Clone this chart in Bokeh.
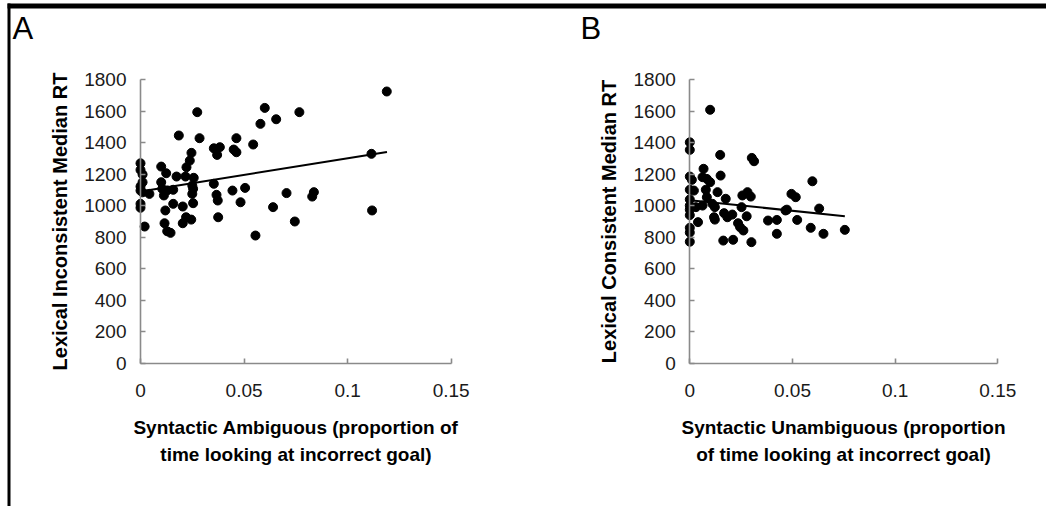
from bokeh.plotting import figure
from bokeh.models import Range1d, FixedTicker, Label, BoxAnnotation, LinearAxis
from bokeh.embed import file_html
from bokeh.resources import INLINE

# ---------------- data ----------------
# Panel A: Syntactic Ambiguous vs Lexical Inconsistent Median RT
a_x = [0.000, 0.000, 0.001, 0.001, 0.000, 0.000, 0.001, 0.000, 0.000, 0.002,
       0.0043, 0.010, 0.0124, 0.010, 0.0105, 0.0113, 0.0129, 0.0158, 0.012, 0.0116,
       0.0129, 0.0145, 0.0158, 0.0185, 0.0174, 0.0204, 0.0204, 0.0217, 0.022, 0.0245,
       0.0222, 0.0238, 0.0246, 0.0257, 0.025, 0.0254, 0.025, 0.0254, 0.0274, 0.0285,
       0.0354, 0.0383, 0.037, 0.0354, 0.0367, 0.0373, 0.0375, 0.0444, 0.0463, 0.045,
       0.0463, 0.0483, 0.0505, 0.0544, 0.0555, 0.0579, 0.060, 0.0655, 0.064, 0.0705,
       0.0745, 0.0767, 0.0829, 0.0837, 0.1115, 0.1118, 0.1189]
a_y = [1269, 1227, 1198, 1149, 1122, 1096, 1085, 1012, 987, 868,
       1075, 1248, 1206, 1149, 1107, 1065, 1097, 1101, 970, 889,
       838, 828, 1012, 1445, 1185, 995, 889, 1185, 927, 912,
       1244, 1286, 1335, 1177, 1128, 1107, 1075, 1016, 1593, 1428,
       1364, 1371, 1322, 1139, 1069, 1033, 927, 1096, 1428, 1356,
       1339, 1022, 1113, 1388, 811, 1519, 1620, 1548, 991, 1080,
       900, 1593, 1058, 1086, 1329, 970, 1724]

# Panel B: Syntactic Unambiguous vs Lexical Consistent Median RT
b_x = [0.000, 0.000, 0.000, 0.001, 0.000, 0.002, 0.000, 0.000, 0.000, 0.000,
       0.000, 0.000, 0.000, 0.003, 0.004, 0.0062, 0.0067, 0.0062, 0.0083, 0.0099,
       0.0078, 0.0083, 0.0099, 0.011, 0.0122, 0.0118, 0.0122, 0.0135, 0.0148, 0.015,
       0.0163, 0.0167, 0.0175, 0.0183, 0.0207, 0.0211, 0.0235, 0.0245, 0.0252, 0.0256,
       0.0261, 0.0277, 0.0281, 0.0297, 0.030, 0.0302, 0.0313, 0.0381, 0.0424, 0.0424,
       0.0466, 0.0473, 0.0495, 0.0516, 0.0523, 0.0589, 0.0597, 0.063, 0.0651, 0.0755]
b_y = [1402, 1354, 1185, 1164, 1101, 1096, 1040, 1001, 975, 940,
       860, 830, 772, 991, 896, 1001, 1234, 1181, 1170, 1149,
       1101, 1054, 1608, 1012, 991, 927, 912, 1086, 1322, 1191,
       779, 953, 1044, 927, 944, 784, 889, 864, 991, 1065,
       843, 933, 1086, 1058, 769, 1303, 1282, 906, 910, 822,
       970, 975, 1075, 1054, 910, 860, 1155, 982, 822, 847]

# fitted trend lines (end points)
trend_a_x = [0.0, 0.119]
trend_a_y = [1090, 1341]
trend_b_x = [0.0, 0.0755]
trend_b_y = [1035, 934]

y_ticks = [0, 200, 400, 600, 800, 1000, 1200, 1400, 1600, 1800]
x_ticks = [0, 0.05, 0.1, 0.15]
x_tick_labels = ["0", "0.05", "0.1", "0.15"]

y_titles = ["Lexical Inconsistent Median RT", "Lexical Consistent Median RT"]
x_titles = ["Syntactic Ambiguous (proportion of\ntime looking at incorrect goal)",
            "Syntactic Unambiguous (proportion\nof time looking at incorrect goal)"]
panel_letters = ["A", "B"]

# ---------------- layout / style ----------------
FONT = "Liberation Sans"
AXIS_GRAY = "#8a8a8a"
W, H = 1046, 506
Y0_PX, Y1_PX = 363.0, 79.0             # canvas rows of y = 0 and y = 1800
A_X0_PX, A_X15_PX = 140.0, 450.7       # canvas columns of x = 0 and x = 0.15 (panel A)
B_X0_PX, B_X15_PX = 689.3, 997.3       # same for panel B
LETTER_X = [12, 580]


def x_range_for(x0_px, x15_px):
    kx = (x_ticks[-1] - x_ticks[0]) / (x15_px - x0_px)
    return Range1d(x_ticks[0] - x0_px * kx, x_ticks[0] + (W - x0_px) * kx)


ky = (y_ticks[-1] - y_ticks[0]) / (Y0_PX - Y1_PX)
y_range = Range1d(y_ticks[0] - (H - Y0_PX) * ky, y_ticks[0] + Y0_PX * ky)

# one canvas; the frame fills it, the axes are drawn at fixed data locations
p = figure(width=W, height=H, output_backend="svg", toolbar_location=None,
           x_range=x_range_for(A_X0_PX, A_X15_PX), y_range=y_range,
           min_border=0, min_border_left=0, min_border_right=0,
           min_border_top=0, min_border_bottom=0)
p.extra_x_ranges = {"b": x_range_for(B_X0_PX, B_X15_PX)}
p.xgrid.visible = False
p.ygrid.visible = False
p.outline_line_color = None
p.background_fill_color = "white"
p.border_fill_color = "white"

xa_b = LinearAxis(x_range_name="b")
ya_b = LinearAxis(x_range_name="b")
p.add_layout(xa_b, "below")
p.add_layout(ya_b, "left")

panels = [(p.xaxis[0], p.yaxis[0]), (xa_b, ya_b)]
for i, (xa, ya) in enumerate(panels):
    xa.ticker = FixedTicker(ticks=x_ticks)
    xa.major_label_overrides = {t: l for t, l in zip(x_ticks, x_tick_labels)}
    ya.ticker = FixedTicker(ticks=y_ticks)
    xa.bounds = (x_ticks[0], x_ticks[-1])
    ya.bounds = (y_ticks[0], y_ticks[-1])
    ya.fixed_location = x_ticks[0]
    xa.fixed_location = y_ticks[0]
    for ax in (xa, ya):
        ax.axis_line_color = AXIS_GRAY
        ax.axis_line_width = 1.6
        ax.major_tick_line_color = AXIS_GRAY
        ax.major_tick_line_width = 1.6
        ax.major_tick_in = 5
        ax.major_tick_out = 0
        ax.minor_tick_line_color = None
        ax.major_label_text_font = FONT
        ax.major_label_text_font_size = "19px"
        ax.major_label_text_color = "#1a1a1a"
        ax.axis_label_text_font = FONT
        ax.axis_label_text_font_style = "bold"
        ax.axis_label_text_color = "black"
    xa.axis_label = x_titles[i]
    xa.axis_label_text_font_size = "19px"
    xa.axis_label_text_line_height = 1.3
    xa.major_label_standoff = 20
    xa.axis_label_standoff = 17
    ya.axis_label = y_titles[i]
    ya.axis_label_text_font_size = "20px"
    ya.major_label_standoff = 14
    ya.axis_label_standoff = 10

p.scatter(a_x, a_y, size=9, fill_color="black", line_color="black")
p.line(trend_a_x, trend_a_y, line_color="black", line_width=2)
p.scatter(b_x, b_y, size=9, fill_color="black", line_color="black", x_range_name="b")
p.line(trend_b_x, trend_b_y, line_color="black", line_width=2, x_range_name="b")

# panel letters (screen units: frame == canvas, y measured from the bottom)
for letter, lx in zip(panel_letters, LETTER_X):
    p.add_layout(Label(x=lx, y=H - 10, x_units="screen", y_units="screen",
                       text=letter, text_font=FONT, text_font_size="31px",
                       text_baseline="top", text_color="black"))

# figure frame rules (top and left)
p.add_layout(BoxAnnotation(left=7, right=W, top=H - 3, bottom=H - 8,
                           left_units="screen", right_units="screen",
                           top_units="screen", bottom_units="screen",
                           fill_color="black", fill_alpha=1, line_color=None))
p.add_layout(BoxAnnotation(left=7, right=10, top=H - 3, bottom=0,
                           left_units="screen", right_units="screen",
                           top_units="screen", bottom_units="screen",
                           fill_color="black", fill_alpha=1, line_color=None))

open("out.html", "w").write(file_html(p, INLINE))
